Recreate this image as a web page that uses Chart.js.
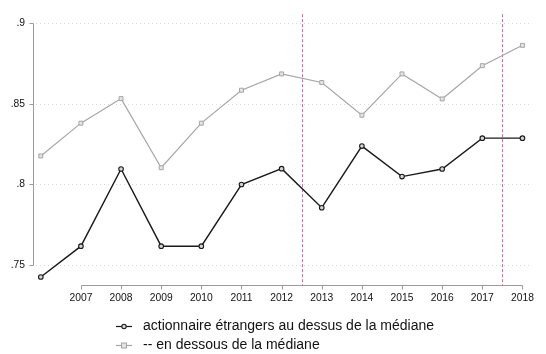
<!DOCTYPE html>
<html>
<head>
<meta charset="utf-8">
<script src="https://cdn.jsdelivr.net/npm/chart.js@4/dist/chart.umd.min.js"></script>
<style>
  html, body { margin: 0; padding: 0; background: #fff; }
  #wrap { width: 546px; height: 354px; position: relative; }
</style>
</head>
<body>
<div id="wrap"><canvas id="c" width="546" height="354"></canvas></div>
<script>
// Years and shares for the two groups of firms
const years = [2006, 2007, 2008, 2009, 2010, 2011, 2012, 2013, 2014, 2015, 2016, 2017, 2018];
const aboveMedian = [0.7427, 0.7618, 0.8096, 0.7618, 0.7618, 0.8000, 0.8098, 0.7856, 0.8238, 0.8049, 0.8096, 0.8287, 0.8287];
const belowMedian = [0.8177, 0.8380, 0.8532, 0.8104, 0.8380, 0.8584, 0.8685, 0.8632, 0.8429, 0.8685, 0.8530, 0.8736, 0.8862];
const seriesLabels = ['actionnaire étrangers au dessus de la médiane', '-- en dessous de la médiane'];
const xTickYears = [2007, 2008, 2009, 2010, 2011, 2012, 2013, 2014, 2015, 2016, 2017, 2018];
const yTickValues = [0.75, 0.80, 0.85, 0.90];
const yTickLabels = ['.75', '.8', '.85', '.9'];
const referenceYears = [2012.5, 2017.5];

const FONT = '"Liberation Sans", Arial, Helvetica, sans-serif';
const BLACK = '#1a1a1a';
const GREY = '#a6a6a6';
const PINK = '#e2619f';

// Stata-style frame: dotted grid, partial axis lines, outward ticks, reference lines, legend
const framePlugin = {
  id: 'frame',
  beforeDatasetsDraw(chart) {
    const { ctx, chartArea, scales } = chart;
    const x = scales.x, y = scales.y;
    ctx.save();
    // dotted horizontal grid
    ctx.strokeStyle = '#d9d9d9';
    ctx.lineWidth = 1;
    ctx.setLineDash([1, 3]);
    yTickValues.forEach(v => {
      const py = Math.round(y.getPixelForValue(v)) + 0.5;
      ctx.beginPath();
      ctx.moveTo(chartArea.left + 3, py);
      ctx.lineTo(chartArea.right, py);
      ctx.stroke();
    });
    ctx.setLineDash([]);
    // y axis line and ticks
    ctx.strokeStyle = '#9a9a9a';
    const ax = Math.round(chartArea.left) + 0.5;
    const yTop = Math.round(y.getPixelForValue(yTickValues[yTickValues.length - 1])) + 0.5;
    const yBot = Math.round(y.getPixelForValue(yTickValues[0])) + 0.5;
    ctx.beginPath();
    ctx.moveTo(ax, yTop);
    ctx.lineTo(ax, yBot);
    yTickValues.forEach(v => {
      const py = Math.round(y.getPixelForValue(v)) + 0.5;
      ctx.moveTo(ax, py);
      ctx.lineTo(ax - 4, py);
    });
    ctx.stroke();
    // x axis line and ticks, set slightly below the plot region
    const ay = Math.round(chartArea.bottom + 5) + 0.5;
    const xL = Math.round(x.getPixelForValue(xTickYears[0])) + 0.5;
    const xR = Math.round(x.getPixelForValue(xTickYears[xTickYears.length - 1])) + 0.5;
    ctx.beginPath();
    ctx.moveTo(xL, ay);
    ctx.lineTo(xR, ay);
    xTickYears.forEach(v => {
      const px = Math.round(x.getPixelForValue(v)) + 0.5;
      ctx.moveTo(px, ay);
      ctx.lineTo(px, ay + 4);
    });
    ctx.stroke();
    // dashed reference lines
    ctx.strokeStyle = PINK;
    ctx.setLineDash([3, 2]);
    referenceYears.forEach(v => {
      const px = Math.round(x.getPixelForValue(v)) + 0.5;
      ctx.beginPath();
      ctx.moveTo(px, chartArea.top);
      ctx.lineTo(px, ay);
      ctx.stroke();
    });
    ctx.restore();
  },
  afterDraw(chart) {
    const { ctx } = chart;
    ctx.save();
    const rows = [326, 345];
    chart.data.datasets.forEach((ds, i) => {
      const ry = rows[i] + 0.5;
      ctx.strokeStyle = ds.borderColor;
      ctx.lineWidth = 1.2;
      ctx.setLineDash([]);
      ctx.beginPath();
      ctx.moveTo(116, ry);
      ctx.lineTo(132, ry);
      ctx.stroke();
      ctx.fillStyle = ds.pointBackgroundColor;
      ctx.strokeStyle = ds.pointBorderColor;
      ctx.lineWidth = 1.1;
      ctx.beginPath();
      if (ds.pointStyle === 'rect') {
        ctx.rect(121.5, ry - 2.5, 5, 5);
      } else {
        ctx.arc(124, ry, 2.2, 0, Math.PI * 2);
      }
      ctx.fill();
      ctx.stroke();
      ctx.fillStyle = '#111';
      ctx.font = '14px ' + FONT;
      ctx.textBaseline = 'middle';
      ctx.textAlign = 'left';
      ctx.fillText(ds.label, 143, ry);
    });
    ctx.restore();
  }
};

new Chart(document.getElementById('c'), {
  type: 'line',
  data: {
    datasets: [
      {
        label: seriesLabels[0],
        data: years.map((yr, i) => ({ x: yr, y: aboveMedian[i] })),
        borderColor: BLACK,
        borderWidth: 1.4,
        pointStyle: 'circle',
        pointRadius: 2.3,
        pointBorderWidth: 1.1,
        pointBorderColor: BLACK,
        pointBackgroundColor: '#d4d4d4',
        tension: 0
      },
      {
        label: seriesLabels[1],
        data: years.map((yr, i) => ({ x: yr, y: belowMedian[i] })),
        borderColor: GREY,
        borderWidth: 1.2,
        pointStyle: 'rect',
        pointRadius: 2.8,
        pointBorderWidth: 1,
        pointBorderColor: GREY,
        pointBackgroundColor: '#e4e4e4',
        tension: 0
      }
    ]
  },
  options: {
    responsive: false,
    animation: false,
    devicePixelRatio: 1,
    layout: { padding: { top: 10, right: 1, left: 0, bottom: 50 } },
    plugins: { legend: { display: false }, tooltip: { enabled: false } },
    scales: {
      x: {
        type: 'linear',
        min: 2005.806,
        max: 2018.243,
        afterBuildTicks(scale) { scale.ticks = xTickYears.map(v => ({ value: v })); },
        afterFit(scale) { scale.height = 24; },
        grid: { display: false, drawTicks: false },
        border: { display: false },
        ticks: {
          autoSkip: false,
          maxRotation: 0,
          padding: 12,
          color: '#111',
          font: { family: FONT, size: 10.3 },
          callback: v => String(v)
        }
      },
      y: {
        min: 0.74085,
        max: 0.90549,
        afterBuildTicks(scale) { scale.ticks = yTickValues.map(v => ({ value: v })); },
        afterFit(scale) { scale.width = 33; },
        grid: { display: false, drawTicks: false },
        border: { display: false },
        ticks: {
          autoSkip: false,
          padding: 8,
          color: '#111',
          font: { family: FONT, size: 10.3 },
          callback: v => yTickLabels[yTickValues.findIndex(t => Math.abs(t - v) < 1e-9)]
        }
      }
    }
  },
  plugins: [framePlugin]
});
</script>
</body>
</html>
